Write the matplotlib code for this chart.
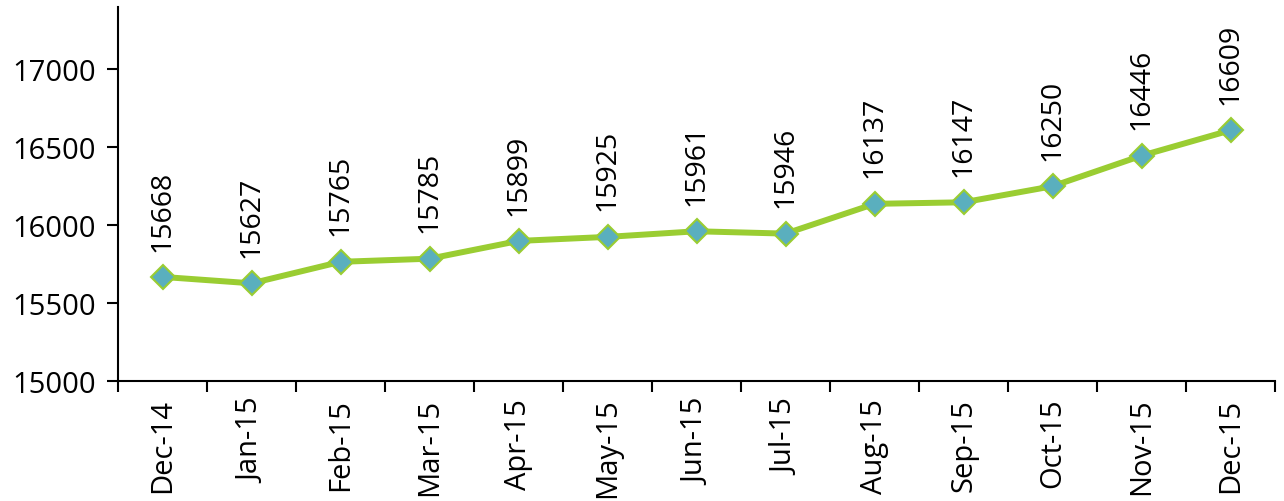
import matplotlib
matplotlib.use("Agg")
import matplotlib.pyplot as plt
import numpy as np

months = ["Dec-14", "Jan-15", "Feb-15", "Mar-15", "Apr-15", "May-15", "Jun-15",
          "Jul-15", "Aug-15", "Sep-15", "Oct-15", "Nov-15", "Dec-15"]
values = [15668, 15627, 15765, 15785, 15899, 15925, 15961,
          15946, 16137, 16147, 16250, 16446, 16609]
yticks = [15000, 15500, 16000, 16500, 17000]

plt.rcParams['font.family'] = ['Open Sans', 'DejaVu Sans']

fig = plt.figure(figsize=(12.84, 5.02), dpi=100)
ax = fig.add_axes([0.092, 0.239, 0.901, 0.745])

x = np.arange(len(months))
ax.plot(x, values, color="#9ACD32", lw=4.3, marker="D", markersize=12,
        markerfacecolor="#5AAFBE", markeredgecolor="#9ACD32", markeredgewidth=1.5,
        zorder=3)

for xi, v in zip(x, values):
    ax.annotate(str(v), (xi, v), xytext=(0, 19), textcoords="offset points",
                rotation=90, ha="center", va="bottom", fontsize=20.5)

ax.set_xlim(-0.5, len(months) - 0.5)
ax.set_ylim(15000, 17400)
ax.set_yticks(yticks)
ax.set_yticklabels([str(t) for t in yticks], fontsize=21)
ax.set_xticks(x)
ax.set_xticklabels(months, rotation=90, fontsize=21)
ax.tick_params(axis="x", which="major", length=0, pad=12)
ax.set_xticks(np.arange(-0.5, len(months) + 0.5, 1), minor=True)
ax.tick_params(axis="x", which="minor", length=8, width=1.5)
ax.tick_params(axis="y", length=8, width=1.5, pad=8)

for s in ["top", "right"]:
    ax.spines[s].set_visible(False)
for s in ["left", "bottom"]:
    ax.spines[s].set_linewidth(1.5)

fig.savefig("out.png", dpi=100)
